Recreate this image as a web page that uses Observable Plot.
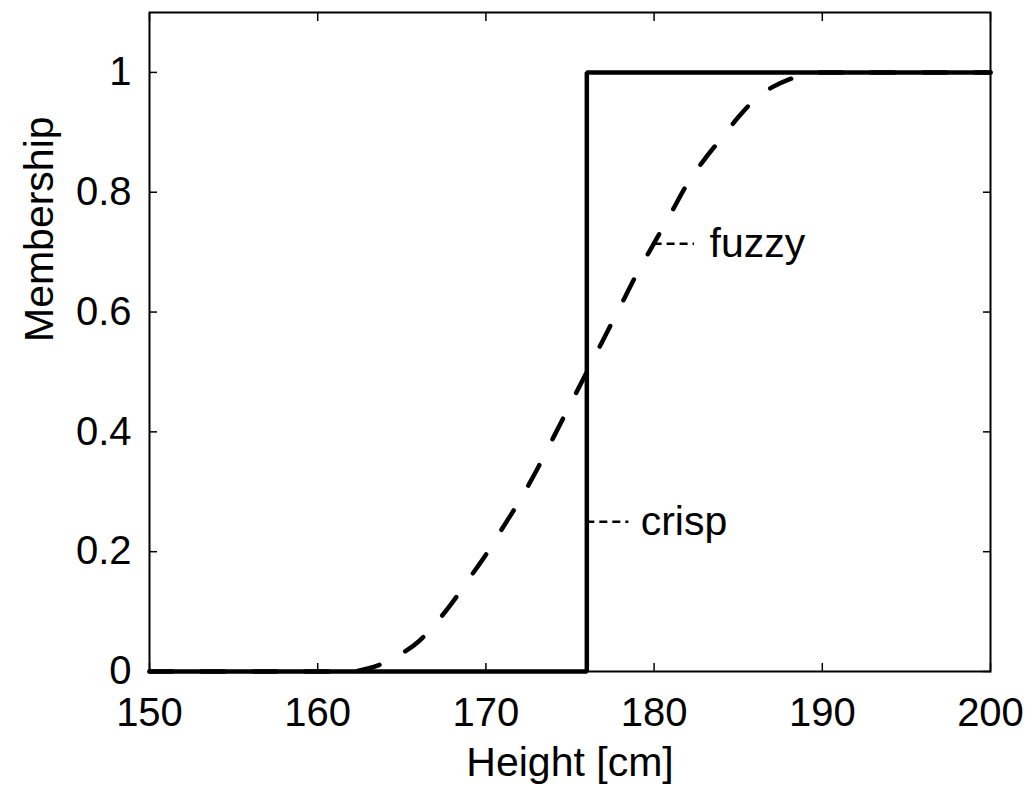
<!DOCTYPE html>
<html>
<head>
<meta charset="utf-8">
<script src="https://cdn.jsdelivr.net/npm/d3@7"></script>
<script src="https://cdn.jsdelivr.net/npm/@observablehq/plot@0.6"></script>
<style>
  html, body { margin: 0; padding: 0; background: #fff; }
  #chart svg { display: block; }
</style>
</head>
<body>
<div id="chart"></div>
<script>
// Crisp membership (step at 176 cm)
const crispX = [150, 176, 176, 200];
const crispY = [0, 0, 1, 1];

// Fuzzy membership
const fuzzyX = [150, 155, 160, 162, 163, 164, 165, 166, 167, 168, 169, 170, 171, 172, 173, 174, 175, 176, 177, 178, 179, 180, 181, 182, 183, 184, 185, 186, 187, 188, 189, 190, 195, 200];
const fuzzyY = [0, 0, 0, 0, 0.005, 0.015, 0.03, 0.05, 0.08, 0.115, 0.155, 0.195, 0.24, 0.285, 0.335, 0.39, 0.445, 0.5, 0.555, 0.61, 0.665, 0.715, 0.765, 0.815, 0.855, 0.89, 0.925, 0.955, 0.975, 0.988, 0.996, 1, 1, 1];

// Tick values and labels
const xTicks = [150, 160, 170, 180, 190, 200];
const yTicks = [0, 0.2, 0.4, 0.6, 0.8, 1];
const yTickLabels = ["0", "0.2", "0.4", "0.6", "0.8", "1"];

// Annotations
const annText = ["fuzzy", "crisp"];
const annX = [183.3, 179.2];
const annY = [0.714, 0.25];
const leadX1 = [180, 176];
const leadX2 = [182.4, 178.5];

const xLabel = "Height [cm]";
const yLabel = "Membership";

const crisp = crispX.map((x, i) => ({x, y: crispY[i]}));
const fuzzy = fuzzyX.map((x, i) => ({x, y: fuzzyY[i]}));
const ann = annText.map((t, i) => ({t, x: annX[i], y: annY[i], x1: leadX1[i], x2: leadX2[i]}));

const font = "'Liberation Sans', Arial, Helvetica, sans-serif";
const blank = () => "";
const yFmt = (d) => yTickLabels[yTicks.indexOf(d)];

const chart = Plot.plot({
  width: 1028,
  height: 789,
  marginLeft: 149,
  marginRight: 38,
  marginTop: 12,
  marginBottom: 118,
  style: {fontFamily: font, color: "black", background: "white"},
  x: {domain: [150, 200]},
  y: {domain: [0, 1.1]},
  marks: [
    Plot.frame({stroke: "black", strokeWidth: 2}),
    // labels
    Plot.axisX(xTicks, {anchor: "bottom", tickSize: 0, tickPadding: 26, fontSize: 40, label: null}),
    Plot.axisY(yTicks, {anchor: "left", tickSize: 0, tickPadding: 18, fontSize: 40, label: null, tickFormat: yFmt}),
    // inward ticks on all sides
    Plot.axisX(xTicks, {anchor: "bottom", tickSize: -8, tickFormat: blank, label: null, strokeWidth: 1.5}),
    Plot.axisX(xTicks, {anchor: "top", tickSize: -8, tickFormat: blank, label: null, strokeWidth: 1.5}),
    Plot.axisY(yTicks, {anchor: "left", tickSize: -8, tickFormat: blank, label: null, strokeWidth: 1.5}),
    Plot.axisY(yTicks, {anchor: "right", tickSize: -8, tickFormat: blank, label: null, strokeWidth: 1.5}),
    // data
    Plot.line(crisp, {x: "x", y: "y", stroke: "black", strokeWidth: 4.5, strokeLinejoin: "miter"}),
    Plot.line(fuzzy, {x: "x", y: "y", stroke: "black", strokeWidth: 4.5, curve: "monotone-x",
      strokeDasharray: "23,29", strokeLinecap: "round"}),
    // annotation leaders and text
    Plot.ruleY(ann, {y: "y", x1: "x1", x2: "x2", stroke: "black", strokeWidth: 2.5, strokeDasharray: "8,5"}),
    Plot.text(ann, {x: "x", y: "y", text: "t", textAnchor: "start", lineAnchor: "middle", fontSize: 41, fill: "black"}),
    // axis titles
    Plot.text([xLabel], {frameAnchor: "bottom", dy: 104, lineAnchor: "bottom", fontSize: 41, fill: "black"}),
    Plot.text([yLabel], {frameAnchor: "left", dx: -97, rotate: -90, lineAnchor: "bottom", fontSize: 41, fill: "black"})
  ]
});
document.getElementById("chart").appendChild(chart);
</script>
</body>
</html>
